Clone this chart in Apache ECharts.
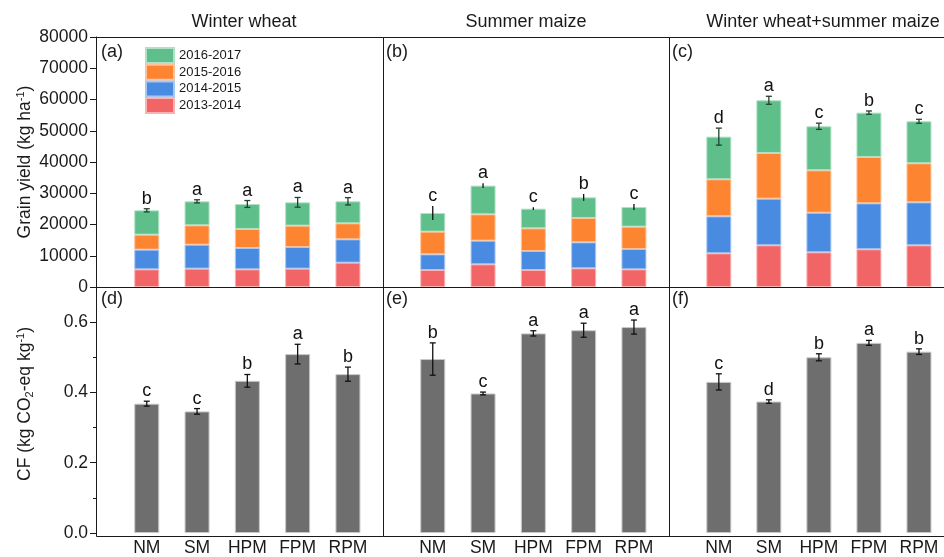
<!DOCTYPE html>
<html>
<head>
<meta charset="utf-8">
<title>Grain yield and carbon footprint</title>
<script src="https://cdn.jsdelivr.net/npm/echarts@6/dist/echarts.min.js"></script>
<style>
  html, body { margin: 0; padding: 0; background: #fff; }
  #chart { width: 944px; height: 557px; }
</style>
</head>
<body>
<div id="chart"></div>
<script>
// Treatments and seasons
const treatments = ['NM', 'SM', 'HPM', 'FPM', 'RPM'];
const seasons = ['2013-2014', '2014-2015', '2015-2016', '2016-2017'];
const panelTitles = ['Winter wheat', 'Summer maize', 'Winter wheat+summer maize'];

// Grain yield (kg ha-1) per season, winter wheat
const wheat1314 = [5650, 5870, 5650, 5870, 7790];
const wheat1415 = [6300, 7680, 6830, 6930, 7470];
const wheat1516 = [4800, 6190, 6090, 6830, 5120];
const wheat1617 = [7790, 7680, 8000, 7470, 7040];
const wheatYieldErr = [500, 500, 1100, 1550, 1170];
const wheatYieldLetters = ['b', 'a', 'a', 'a', 'a'];

// Grain yield (kg ha-1) per season, summer maize
const maize1314 = [5440, 7260, 5440, 5980, 5650];
const maize1415 = [5020, 7570, 6080, 8320, 6510];
const maize1516 = [7250, 8430, 7260, 7790, 7150];
const maize1617 = [5980, 9180, 6290, 6610, 6300];
const maizeYieldErr = [2240, 750, 430, 1070, 960];
const maizeYieldLetters = ['c', 'a', 'c', 'b', 'c'];

// Grain yield (kg ha-1) per season, wheat-maize rotation
const rot1314 = [10780, 13340, 11100, 12060, 13340];
const rot1415 = [11840, 14940, 12690, 14720, 13760];
const rot1516 = [11840, 14610, 13550, 14830, 12490];
const rot1617 = [13660, 16860, 14090, 14190, 13440];
const rotYieldErr = [2720, 1280, 1000, 530, 640];
const rotYieldLetters = ['d', 'a', 'c', 'b', 'c'];

// Carbon footprint (kg CO2-eq kg-1)
const wheatCF = [0.368, 0.346, 0.433, 0.509, 0.452];
const wheatCFErr = [0.007, 0.008, 0.018, 0.028, 0.020];
const wheatCFLetters = ['c', 'c', 'b', 'a', 'b'];
const maizeCF = [0.495, 0.397, 0.568, 0.577, 0.586];
const maizeCFErr = [0.046, 0.004, 0.0075, 0.020, 0.020];
const maizeCFLetters = ['b', 'c', 'a', 'a', 'a'];
const rotCF = [0.430, 0.374, 0.500, 0.541, 0.516];
const rotCFErr = [0.023, 0.005, 0.010, 0.007, 0.008];
const rotCFLetters = ['c', 'd', 'b', 'a', 'b'];

// Axis ticks
const yieldMax = 80000, yieldStep = 10000;
const cfMax = 0.7, cfStep = 0.2;

const FONT = "'Liberation Sans', Arial, Helvetica, sans-serif";
const INK = '#1a1a1a';
const seasonColors = ['#f26566', '#4a8be2', '#fd8532', '#5fbf8b'];
const seasonEdge = ['#f9b3b3', '#a8c8f2', '#fec29a', '#b2e0c6'];

const yieldPanels = [
  { seasons: [wheat1314, wheat1415, wheat1516, wheat1617], err: wheatYieldErr, letters: wheatYieldLetters, errColor: '#24402e', caps: true },
  { seasons: [maize1314, maize1415, maize1516, maize1617], err: maizeYieldErr, letters: maizeYieldLetters, errColor: '#111', caps: false },
  { seasons: [rot1314, rot1415, rot1516, rot1617], err: rotYieldErr, letters: rotYieldLetters, errColor: '#24402e', caps: true }
];
const cfPanels = [
  { values: wheatCF, err: wheatCFErr, letters: wheatCFLetters },
  { values: maizeCF, err: maizeCFErr, letters: maizeCFLetters },
  { values: rotCF, err: rotCFErr, letters: rotCFLetters }
];

// Panel frames (px) and the plotting band inside each frame
const frameLeft = [96, 383, 669];
const frameWidth = [287, 286, 290];
const bandWidth = 50.3;
const plotLeft = [121.6, 407.6, 693.8];
const topRow = { top: 37, height: 250 };
const botRow = { top: 287, height: 249 };

const grids = [], xAxes = [], yAxes = [], series = [];

function errorBarSeries(gridIdx, points, letters, color, caps) {
  return {
    type: 'custom',
    xAxisIndex: gridIdx,
    yAxisIndex: gridIdx,
    z: 5,
    silent: true,
    data: points,
    encode: { x: 0, y: 1 },
    renderItem: function (params, api) {
      const x = api.value(0), top = api.value(1), e = api.value(2);
      const hi = api.coord([x, top + e]);
      const lo = api.coord([x, top - e]);
      const children = [
        { type: 'line', shape: { x1: hi[0], y1: hi[1], x2: lo[0], y2: lo[1] }, style: { stroke: color, lineWidth: 1.3 } }
      ];
      if (caps) {
        children.push({ type: 'line', shape: { x1: hi[0] - 3, y1: hi[1], x2: hi[0] + 3, y2: hi[1] }, style: { stroke: color, lineWidth: 1.3 } });
        children.push({ type: 'line', shape: { x1: lo[0] - 3, y1: lo[1], x2: lo[0] + 3, y2: lo[1] }, style: { stroke: color, lineWidth: 1.3 } });
      }
      children.push({
        type: 'text',
        style: {
          text: letters[params.dataIndex], x: hi[0], y: hi[1] - 1,
          align: 'center', verticalAlign: 'bottom',
          fill: '#111', font: '18px ' + FONT
        }
      });
      return { type: 'group', children: children };
    }
  };
}

function catAxis(gi, showLabels) {
  return {
    gridIndex: gi, type: 'category', data: treatments, boundaryGap: true,
    axisLine: { show: false }, axisTick: { show: false }, splitLine: { show: false },
    axisLabel: { show: showLabels, fontSize: 17.5, fontFamily: FONT, color: INK, margin: 6, interval: 0 }
  };
}

for (let c = 0; c < 3; c++) {
  // Top row: stacked grain yield
  const gi = c;
  grids.push({ left: plotLeft[c], top: topRow.top, width: bandWidth * 5, height: topRow.height });
  xAxes.push(catAxis(gi, false));
  yAxes.push({
    gridIndex: gi, type: 'value', min: 0, max: yieldMax, interval: yieldStep, show: c === 0,
    offset: plotLeft[c] - frameLeft[c],
    splitLine: { show: false },
    axisLine: { show: true, lineStyle: { color: INK } },
    axisTick: { show: true, length: 6, lineStyle: { color: INK } },
    axisLabel: { fontSize: 17.5, fontFamily: FONT, color: INK, margin: 8, formatter: v => String(v) }
  });
  const p = yieldPanels[c];
  for (let s = 0; s < 4; s++) {
    series.push({
      type: 'bar', name: seasons[s], stack: 'yield' + c, xAxisIndex: gi, yAxisIndex: gi,
      barWidth: 25,
      itemStyle: { color: seasonColors[s], borderColor: seasonEdge[s], borderWidth: 1 },
      data: p.seasons[s]
    });
  }
  const totals = treatments.map((t, i) => p.seasons.reduce((acc, arr) => acc + arr[i], 0));
  series.push(errorBarSeries(gi, totals.map((v, i) => [i, v, p.err[i]]), p.letters, p.errColor, p.caps));
}

for (let c = 0; c < 3; c++) {
  // Bottom row: carbon footprint
  const gi = 3 + c;
  grids.push({ left: plotLeft[c], top: botRow.top, width: bandWidth * 5, height: botRow.height });
  xAxes.push(catAxis(gi, true));
  yAxes.push({
    gridIndex: gi, type: 'value', min: 0, max: cfMax, interval: cfStep, show: c === 0,
    offset: plotLeft[c] - frameLeft[c],
    splitLine: { show: false },
    axisLine: { show: true, lineStyle: { color: INK } },
    axisTick: { show: true, length: 6, lineStyle: { color: INK } },
    minorTick: { show: true, splitNumber: 2, length: 3, lineStyle: { color: INK } },
    axisLabel: {
      fontSize: 17.5, fontFamily: FONT, color: INK, margin: 8,
      formatter: v => (v > cfMax - 0.05) ? '' : v.toFixed(1)
    }
  });
  const p = cfPanels[c];
  series.push({
    type: 'bar', name: 'CF', xAxisIndex: gi, yAxisIndex: gi, barWidth: 25,
    itemStyle: { color: '#6e6e6e', borderColor: '#c8c8c8', borderWidth: 1 },
    data: p.values
  });
  series.push(errorBarSeries(gi, p.values.map((v, i) => [i, v, p.err[i]]), p.letters, '#111', true));
}

const graphics = [];
// Panel frames
[topRow, botRow].forEach(row => {
  for (let c = 0; c < 3; c++) {
    graphics.push({
      type: 'rect', z: 100, silent: true,
      shape: { x: frameLeft[c] + 0.5, y: row.top + 0.5, width: frameWidth[c], height: row.height },
      style: { fill: null, stroke: INK, lineWidth: 1 }
    });
  }
});

const panelTags = ['(a)', '(b)', '(c)', '(d)', '(e)', '(f)'];
panelTags.forEach((tag, k) => {
  const c = k % 3, r = Math.floor(k / 3);
  graphics.push({
    type: 'text', left: frameLeft[c] + (c === 0 ? 5 : 3), top: r === 0 ? 43 : 290,
    style: { text: tag, font: '18px ' + FONT, fill: INK }
  });
});

// Rotated y-axis names with super/subscripts
graphics.push({
  type: 'text', x: 25, y: 162, rotation: Math.PI / 2,
  style: {
    text: 'Grain yield (kg ha{sup|-1})', align: 'center', verticalAlign: 'middle',
    font: '17.5px ' + FONT, fill: INK,
    rich: { sup: { fontSize: 11, fontFamily: FONT, verticalAlign: 'top', lineHeight: 20, fill: INK } }
  }
});
graphics.push({
  type: 'text', x: 25, y: 404, rotation: Math.PI / 2,
  style: {
    text: 'CF (kg CO{sub|2}-eq kg{sup|-1})', align: 'center', verticalAlign: 'middle',
    font: '17.5px ' + FONT, fill: INK,
    rich: {
      sup: { fontSize: 11, fontFamily: FONT, verticalAlign: 'top', lineHeight: 20, fill: INK },
      sub: { fontSize: 11, fontFamily: FONT, verticalAlign: 'bottom', lineHeight: 20, fill: INK }
    }
  }
});

const titleCenters = [244, 526, 823];
const titles = panelTitles.map((t, c) => ({
  text: t, left: titleCenters[c], top: 13, textAlign: 'center', padding: 0,
  textStyle: { fontSize: 18, fontWeight: 'normal', fontFamily: FONT, color: INK }
}));

const chart = echarts.init(document.getElementById('chart'), null, { renderer: 'canvas' });
chart.setOption({
  animation: false,
  backgroundColor: '#fff',
  title: titles,
  legend: {
    data: seasons.slice().reverse(),
    orient: 'vertical', left: 145, top: 47, padding: 0,
    itemWidth: 28, itemHeight: 15, itemGap: -0.3, icon: 'rect',
    textStyle: { fontSize: 13, lineHeight: 14, fontFamily: FONT, color: INK }
  },
  grid: grids,
  xAxis: xAxes,
  yAxis: yAxes,
  series: series,
  graphic: graphics
});
</script>
</body>
</html>
